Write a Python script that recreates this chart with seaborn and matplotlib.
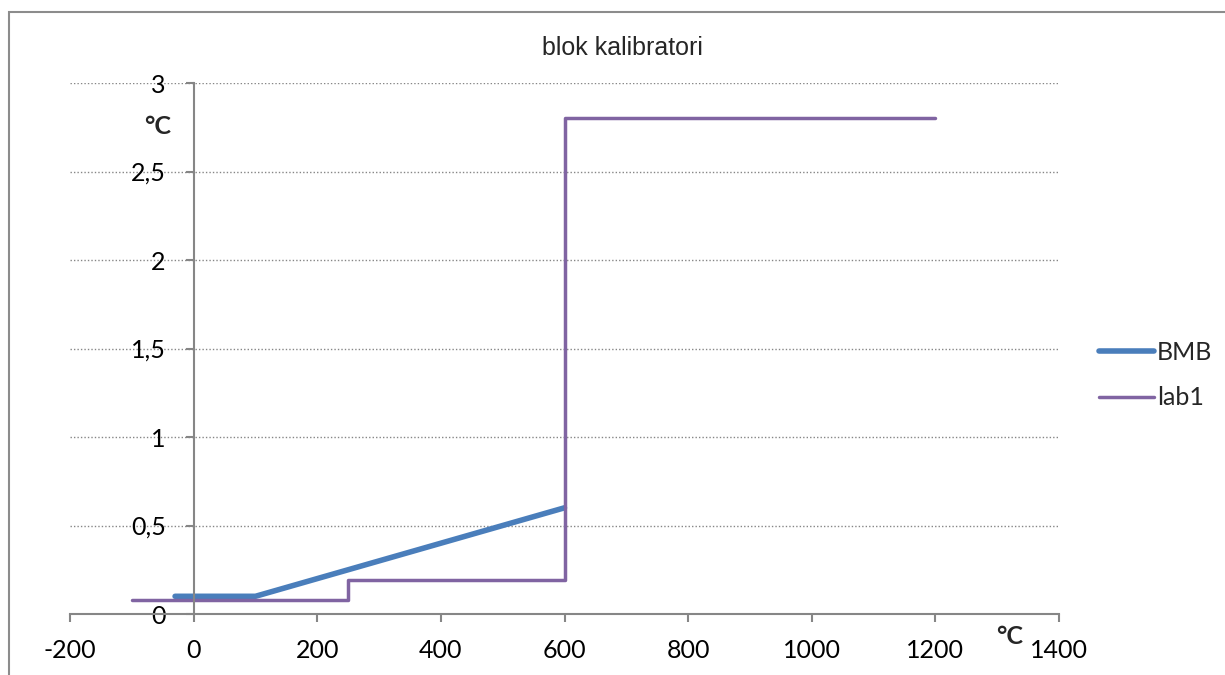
import seaborn as sns
import pandas as pd
import matplotlib.pyplot as plt
from matplotlib.patches import Rectangle
from matplotlib.ticker import FuncFormatter

bmb_x = [-30, 100, 600]
bmb_y = [0.1, 0.1, 0.6]

lab1_x = [-100, 250, 250, 600, 600, 1200]
lab1_y = [0.08, 0.08, 0.19, 0.19, 2.8, 2.8]

x_ticks = [-200, 0, 200, 400, 600, 800, 1000, 1200, 1400]
y_ticks = [0, 0.5, 1, 1.5, 2, 2.5, 3]

bmb = pd.DataFrame({"x": bmb_x, "y": bmb_y})
lab1 = pd.DataFrame({"x": lab1_x, "y": lab1_y})

sns.set_style("white")
plt.rcParams["font.family"] = ["Lato", "DejaVu Sans"]

fig = plt.figure(figsize=(12.25, 6.75), dpi=100)
ax = fig.add_axes([70 / 1225, 1 - 614 / 675, (1059 - 70) / 1225, (614 - 83) / 675])

grey = "#868686"
for yv in y_ticks[1:]:
    ax.axhline(yv, color=grey, lw=1.0, ls=(0, (1, 1.5)), zorder=0)

sns.lineplot(data=bmb, x="x", y="y", ax=ax, sort=False, estimator=None,
             color="#4A7EBB", lw=4, label="BMB", solid_capstyle="round")
sns.lineplot(data=lab1, x="x", y="y", ax=ax, sort=False, estimator=None,
             color="#8064A2", lw=2.5, label="lab1", solid_capstyle="round")

ax.set_xlim(-200, 1400)
ax.set_ylim(0, 3)
ax.set_xticks(x_ticks)
ax.set_yticks(y_ticks)
fmt = FuncFormatter(lambda v, p: ("%g" % v).replace(".", ","))
ax.yaxis.set_major_formatter(fmt)
ax.xaxis.set_major_formatter(fmt)
ax.set_xlabel("")
ax.set_ylabel("")

for s in ["top", "right"]:
    ax.spines[s].set_visible(False)
ax.spines["left"].set_position(("data", 0))
ax.spines["left"].set_color(grey)
ax.spines["bottom"].set_color(grey)
ax.spines["left"].set_linewidth(1.5)
ax.spines["bottom"].set_linewidth(1.5)
ax.tick_params(axis="both", direction="out", length=6, width=1.5, color=grey,
               labelsize=18, labelcolor="black")
ax.tick_params(axis="x", pad=12, bottom=True)
ax.tick_params(axis="y", pad=14, left=True)

fig.text(622 / 1225, 1 - 48 / 675, "blok kalibratori", fontsize=18,
         family="Liberation Sans", ha="center", va="center")
fig.text(158 / 1225, 1 - 126 / 675, "°C", fontsize=18, fontweight="bold",
         ha="center", va="center")
fig.text(1010 / 1225, 1 - 637 / 675, "°C", fontsize=18, fontweight="bold",
         ha="center", va="center")

ax.legend(loc="center left", bbox_to_anchor=(1.018, 0.45), frameon=False,
          fontsize=18, handlelength=2.2, handletextpad=0.1, labelspacing=0.9)

fig.patches.append(Rectangle((9 / 1225, -0.1), 2, (675 - 12) / 675 + 0.1,
                             transform=fig.transFigure, fill=False,
                             edgecolor="#8c8c8c", lw=1.5))

fig.savefig("out.png", dpi=100)
